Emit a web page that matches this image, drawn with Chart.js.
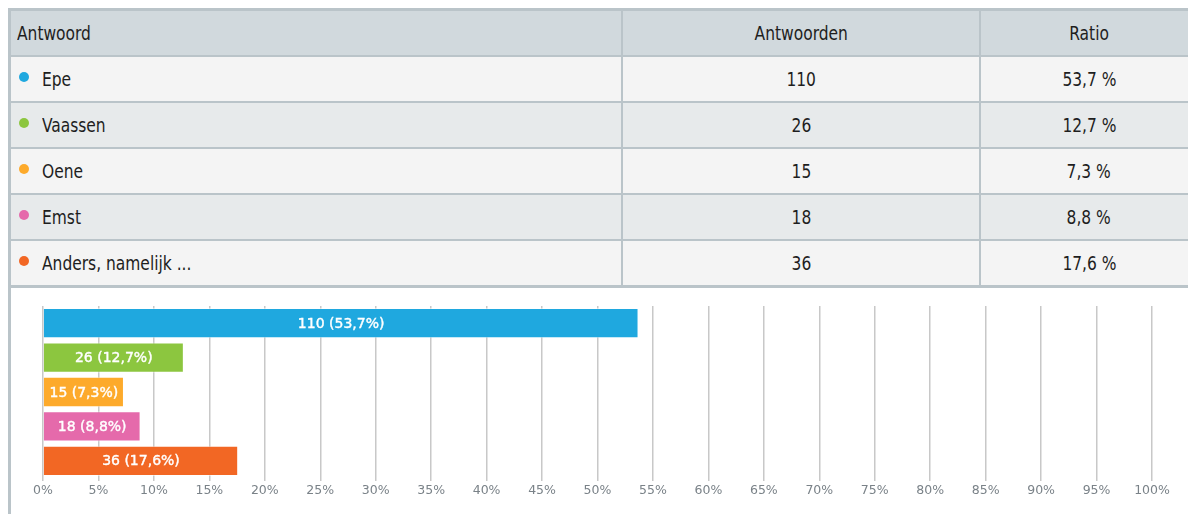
<!DOCTYPE html>
<html>
<head>
<meta charset="utf-8">
<script src="https://cdn.jsdelivr.net/npm/chart.js@4/dist/chart.umd.min.js"></script>
<style>
  body { margin: 0; background: #fff; width: 1188px; height: 514px; overflow: hidden; position: relative; }
  #tbl {
    position: absolute; left: 8px; top: 8px; width: 1192px;
    border-collapse: collapse; border: 3px solid #bac4c9;
    font-family: "Liberation Sans Narrow", "DejaVu Sans Condensed", sans-serif;
    font-size: 20px; color: #1e1e1e;
  }
  #tbl th, #tbl td { border: 2px solid #bac4c9; height: 44px; padding: 0; font-weight: normal; }
  #tbl th { background: #d1d9dd; height: 44px; }
  #tbl th:first-child { text-align: left; padding-left: 6px; }
  #tbl td { text-align: center; }
  #tbl td.lbl { text-align: left; padding-left: 8px; }
  #tbl tr.odd td { background: #f4f4f4; }
  #tbl tr.even td { background: #e7eaeb; }
  .tx { display: inline-block; transform: scaleX(0.86); }
  .lbl .tx, th:first-child .tx { transform-origin: left center; }
  .dot { display: inline-block; width: 10px; height: 10px; border-radius: 50%; margin-right: 13px; position: relative; top: -4px; vertical-align: middle; }
  #chartBox { position: absolute; left: 8px; top: 286px; width: 1180px; height: 228px; border-left: 3px solid #bac4c9; }
  #graph { position: absolute; left: 0; top: 0; }
</style>
</head>
<body>
<table id="tbl">
  <thead><tr><th style="width:604px"><span class="tx">Antwoord</span></th><th style="width:356px"><span class="tx">Antwoorden</span></th><th><span class="tx">Ratio</span></th></tr></thead>
  <tbody id="rows"></tbody>
</table>
<div id="chartBox"><canvas id="graph" width="1177" height="228"></canvas></div>
<script>
const answers = ['Epe', 'Vaassen', 'Oene', 'Emst', 'Anders, namelijk ...'];
const counts = [110, 26, 15, 18, 36];
const ratios = [53.7, 12.7, 7.3, 8.8, 17.6];
const colors = ['#1fa8df', '#8cc63f', '#fdaa2b', '#e56aab', '#f26724'];
const xTicks = [0, 5, 10, 15, 20, 25, 30, 35, 40, 45, 50, 55, 60, 65, 70, 75, 80, 85, 90, 95, 100];

function fmt(v) {
    return v.toFixed(1).replace('.', ',');
}

// table
const tbody = document.querySelector('#rows');
answers.forEach((a, i) => {
    const tr = document.createElement('tr');
    tr.className = i % 2 === 0 ? 'odd' : 'even';
    tr.innerHTML = '<td class="lbl"><span class="dot" style="background:' + colors[i] + '"></span><span class="tx">' + a + '</span></td>'
        + '<td><span class="tx">' + counts[i] + '</span></td><td><span class="tx">' + fmt(ratios[i]) + ' %</span></td>';
    tbody.appendChild(tr);
});

// labels inside the bars
const barLabels = {
    id: 'barLabels',
    afterDatasetsDraw(chart) {
        const c = chart.ctx;
        const meta = chart.getDatasetMeta(0);
        c.save();
        c.font = '14px "DejaVu Sans", sans-serif';
        c.fillStyle = '#ffffff';
        c.strokeStyle = '#ffffff';
        c.lineWidth = 0.4;
        c.textAlign = 'center';
        c.textBaseline = 'middle';
        meta.data.forEach((bar, i) => {
            const txt = counts[i] + ' (' + fmt(ratios[i]) + '%)';
            const x = (bar.x + bar.base) / 2;
            c.fillText(txt, x, bar.y + 1);
            c.strokeText(txt, x, bar.y + 1);
        });
        c.restore();
    }
};

const ctx = document.querySelector('#graph').getContext('2d');
const barChart = new Chart(ctx, {
    type: 'bar',
    data: {
        labels: answers,
        datasets: [{
            data: ratios,
            backgroundColor: colors,
            borderColor: 'rgba(255,255,255,0.5)',
            borderWidth: 1,
            barPercentage: 0.88,
            categoryPercentage: 1
        }]
    },
    plugins: [barLabels],
    options: {
        indexAxis: 'y',
        responsive: false,
        animation: false,
        layout: { padding: { left: 32, right: 36, top: 20, bottom: 14 } },
        plugins: { legend: { display: false }, tooltip: { enabled: false } },
        scales: {
            x: {
                min: 0,
                max: 100,
                afterBuildTicks: (scale) => { scale.ticks = xTicks.map(v => ({ value: v })); },
                grid: { color: '#c8c8c8', lineWidth: 1.5, tickLength: 3 },
                border: { display: false },
                ticks: {
                    padding: 2,
                    color: '#7a8288',
                    font: { family: '"DejaVu Sans", sans-serif', size: 12.5 },
                    callback: v => v + '%'
                }
            },
            y: { display: false }
        }
    }
});
</script>
</body>
</html>
